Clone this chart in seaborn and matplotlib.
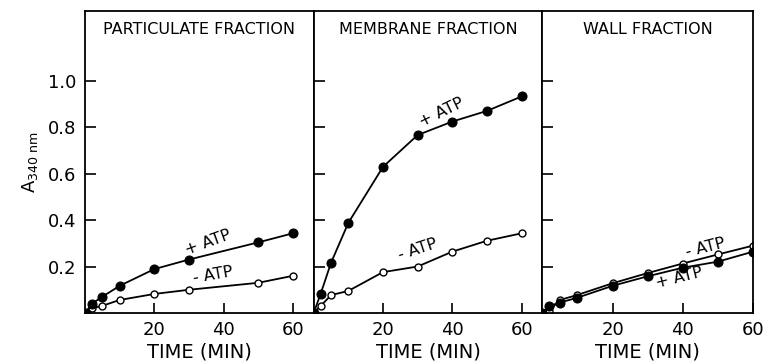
import matplotlib
matplotlib.use("Agg")
import matplotlib.pyplot as plt
import seaborn as sns
import pandas as pd

sns.set_theme(style="white")
plt.rcParams['font.family'] = ['DejaVu Sans']
plt.rcParams['text.color'] = 'black'
plt.rcParams['axes.labelcolor'] = 'black'

# ---- data ----
titles = ["PARTICULATE FRACTION", "MEMBRANE FRACTION", "WALL FRACTION"]

part_t = [0, 2, 5, 10, 20, 30, 50, 60]
part_plus = [0.0, 0.04, 0.07, 0.117, 0.189, 0.23, 0.304, 0.343]
part_minus = [0.0, 0.02, 0.031, 0.056, 0.082, 0.10, 0.13, 0.16]

mem_t = [0, 2, 5, 10, 20, 30, 40, 50, 60]
mem_plus = [0.0, 0.082, 0.216, 0.388, 0.629, 0.766, 0.824, 0.87, 0.932]
mem_minus = [0.0, 0.03, 0.077, 0.095, 0.176, 0.20, 0.264, 0.311, 0.343]

wall_t = [0, 2, 5, 10, 20, 30, 40, 50, 60]
wall_plus = [0.0, 0.03, 0.045, 0.066, 0.117, 0.158, 0.195, 0.221, 0.264]
wall_minus = [0.0, 0.01, 0.056, 0.078, 0.128, 0.172, 0.213, 0.252, 0.29]

y_ticks = [0.2, 0.4, 0.6, 0.8, 1.0]
y_ticklabels = ["0.2", "0.4", "0.6", "0.8", "1.0"]
x_ticks = [20, 40, 60]
x_ticklabels = ["20", "40", "60"]

# label annotations: (text, x, y, rotation)
labels = [
    [("+ ATP", 35.5, 0.305, 20), ("- ATP", 37, 0.165, 10)],
    [("+ ATP", 37, 0.865, 26), ("- ATP", 30, 0.275, 18)],
    [("- ATP", 46.5, 0.28, 14), ("+ ATP", 39, 0.15, 14)],
]

panels = [
    (part_t, part_plus, part_minus, 66),
    (mem_t, mem_plus, mem_minus, 66),
    (wall_t, wall_plus, wall_minus, 60),
]

fig = plt.figure(figsize=(7.66, 3.62), dpi=100)
gs = fig.add_gridspec(1, 3, width_ratios=[228, 228, 210], wspace=0,
                      left=85/766, right=753/766, bottom=1-313/362, top=1-11/362)

for i, (t, plus, minus, xmax) in enumerate(panels):
    ax = fig.add_subplot(gs[0, i])
    df_plus = pd.DataFrame({"t": t, "v": plus})
    df_minus = pd.DataFrame({"t": t, "v": minus})
    sns.lineplot(data=df_minus, x="t", y="v", ax=ax, color="black", linewidth=1.3,
                 marker="o", markersize=5, markerfacecolor="white",
                 markeredgecolor="black", markeredgewidth=1.0, estimator=None, sort=False)
    sns.lineplot(data=df_plus, x="t", y="v", ax=ax, color="black", linewidth=1.3,
                 marker="o", markersize=6.5, markerfacecolor="black",
                 markeredgecolor="black", estimator=None, sort=False)
    ax.set_xlim(0, xmax)
    ax.set_ylim(0, 1.30)
    ax.set_xticks(x_ticks)
    ax.set_xticklabels(x_ticklabels)
    ax.set_yticks(y_ticks)
    if i == 0:
        ax.set_yticklabels(y_ticklabels)
        ax.set_ylabel(r"A$_{\mathrm{340\ nm}}$", fontsize=13, labelpad=6)
    else:
        ax.set_yticklabels([])
        ax.set_ylabel("")
    ax.tick_params(axis="both", direction="in", length=7, width=1.2,
                   labelsize=13, colors="black", pad=6,
                   left=True, bottom=True, right=False, top=False)
    ax.tick_params(axis="y", length=8)
    ax.set_xlabel("TIME (MIN)", fontsize=14, labelpad=2)
    for sp in ax.spines.values():
        sp.set_visible(True)
        sp.set_color("black")
        sp.set_linewidth(1.3)
    ax.text(0.5, 0.94, titles[i], transform=ax.transAxes, ha="center", va="center",
            fontsize=11.5, color="black")
    for (txt, x, y, rot) in labels[i]:
        ax.text(x, y, txt, fontsize=11.5, rotation=rot, ha="center", va="center",
                rotation_mode="anchor", color="black")

fig.savefig("out.png", dpi=100)
